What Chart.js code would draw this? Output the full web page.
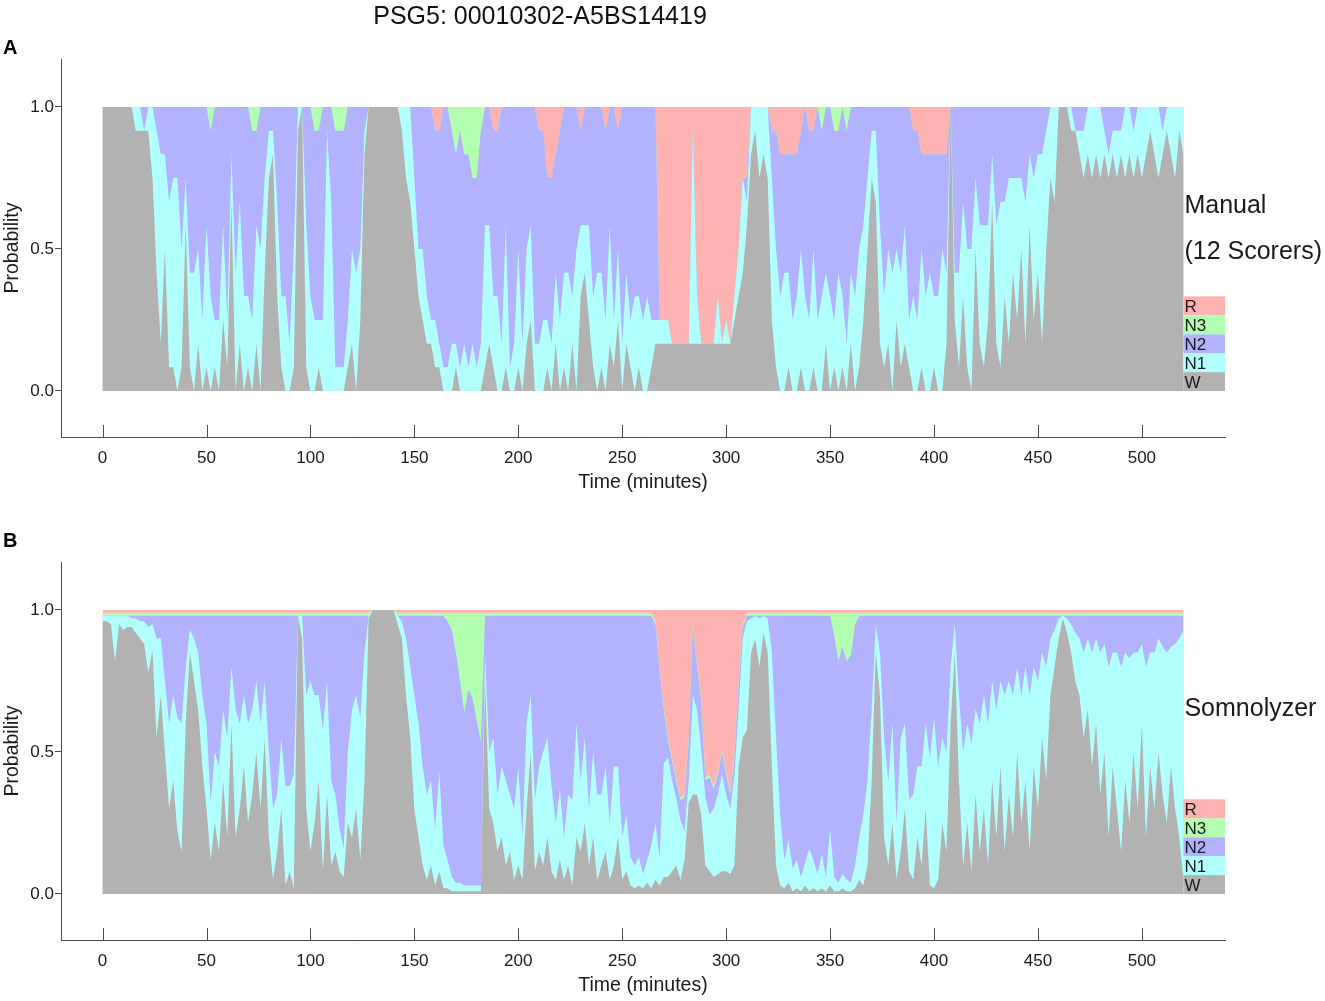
<!DOCTYPE html>
<html><head><meta charset="utf-8">
<script src="https://cdn.jsdelivr.net/npm/chart.js@4.4.1/dist/chart.umd.min.js"></script>
<style>
html,body{margin:0;padding:0;background:#fff;}
#wrap{position:relative;width:1325px;height:1001px;overflow:hidden;font-family:"Liberation Sans",Arial,sans-serif;color:#000;}
canvas{position:absolute;left:0;}
#cA{top:0}
#cB{top:503px}
.lbl{position:absolute;font-weight:bold;font-size:20px;line-height:20px;z-index:2}
#title{position:absolute;top:1px;left:540px;transform:translateX(-50%);font-size:25px;line-height:29px;white-space:nowrap;z-index:2;color:#111}
</style></head><body>
<div id="wrap">
<canvas id="cA" width="1325" height="498"></canvas>
<canvas id="cB" width="1325" height="498"></canvas>
<div id="title">PSG5: 00010302-A5BS14419</div>
<div class="lbl" style="left:3px;top:37px">A</div>
<div class="lbl" style="left:3px;top:530px">B</div>
</div>
<script>
// ---------- categories / ticks ----------
const STAGES = ['W','N1','N2','N3','R'];
const EPOCH_STEP_MIN = 2;          // values read every 2 minutes, 0..520
const xTicks = [0,50,100,150,200,250,300,350,400,450,500];
const yTicks = [0,0.5,1.0];

// ---------- Panel A: manual scoring, votes out of 12 scorers ----------
const manualW = [
12,12,12,12,12,12,12,12,11,11,
11,11,9,5,2,6,1,1,0,1,
7,1,0,2,0,1,0,1,0,3,
1,8,0,2,0,1,0,2,0,5,
9,10,4,1,0,0,1,11,12,1,
0,0,1,0,0,0,0,0,0,1,
2,0,3,10,12,12,12,12,12,12,
12,12,11,9,8,6,4,3,2,2,
1,1,0,0,0,1,0,0,0,0,
0,0,1,2,1,0,0,1,0,0,
1,0,2,3,0,0,0,1,0,2,
0,1,0,2,0,4,5,3,1,0,
1,0,2,1,3,0,2,1,0,1,
0,0,1,2,2,2,2,2,2,2,
2,2,2,2,2,2,2,2,2,2,
2,2,3,4,5,7,10,11,9,10,
9,3,1,0,0,1,0,0,1,0,
0,1,0,0,2,0,1,0,1,0,
2,0,1,3,6,9,8,2,1,2,
0,3,1,2,1,0,0,1,0,0,
1,0,0,2,12,3,1,4,1,0,
6,2,1,3,8,2,1,4,2,5,
3,6,2,7,3,5,2,6,9,8,
12,12,12,11,11,10,9,10,9,10,
9,10,9,10,9,10,9,10,9,10,
9,10,11,10,9,10,11,10,9,11,
10];
const manualN1 = [
0,0,0,0,0,0,0,0,1,1,
0,1,3,6,8,4,7,8,9,5,
2,4,5,4,3,6,4,2,3,4,
2,2,5,6,4,3,3,5,6,4,
2,1,4,3,4,2,5,1,0,6,
4,3,2,3,11,8,1,1,1,2,
4,5,3,1,0,0,0,0,0,0,
0,0,1,3,4,3,2,3,2,1,
2,1,1,1,2,1,1,2,1,2,
1,2,6,5,3,4,2,6,1,2,
5,2,4,4,2,2,3,2,2,3,
3,4,5,2,6,3,2,4,3,5,
4,3,5,2,3,2,3,2,4,3,
3,4,2,1,1,1,1,0,0,0,
0,0,9,2,0,0,0,0,2,0,
1,0,1,2,4,1,2,1,3,2,
3,6,5,4,5,4,3,4,5,4,
3,5,3,4,3,4,2,5,3,2,
3,4,5,4,3,2,3,5,3,4,
5,3,4,5,2,4,3,5,4,5,
3,4,6,3,0,2,4,4,5,6,
3,5,6,4,2,5,7,4,7,4,
6,3,6,3,6,5,8,5,3,4,
0,0,0,1,0,1,2,2,3,2,
3,1,1,1,2,1,3,2,2,2,
3,2,1,2,3,1,1,2,3,1,
2];
const manualN2 = [
0,0,0,0,0,0,0,0,0,0,
1,0,0,1,2,2,4,3,3,6,
3,7,7,6,9,5,7,9,9,5,
9,2,7,4,8,8,8,4,6,3,
1,1,4,8,8,10,6,0,0,5,
8,8,8,9,1,4,10,10,10,9,
6,7,6,1,0,0,0,0,0,0,
0,0,0,0,0,3,6,6,8,9,
8,9,11,11,9,8,10,8,9,7,
8,9,5,5,7,7,10,5,11,10,
6,10,6,5,10,9,8,6,7,5,
8,7,7,8,6,4,5,5,8,7,
7,8,5,9,5,10,7,9,8,8,
9,8,9,9,0,0,0,0,0,0,
0,0,0,0,0,0,0,0,0,0,
0,0,0,0,0,1,0,0,0,0,
0,2,5,6,5,5,7,6,5,8,
8,5,9,7,7,8,8,6,8,9,
7,8,6,5,3,1,1,5,8,6,
7,6,7,5,9,7,8,4,6,5,
6,6,4,5,0,7,7,4,6,6,
3,5,5,5,2,5,4,4,3,3,
3,3,4,2,3,2,2,1,0,0,
0,0,0,0,1,1,1,0,0,0,
0,1,2,1,1,1,0,0,1,0,
0,0,0,0,0,1,0,0,0,0,
0];
const manualN3 = [
0,0,0,0,0,0,0,0,0,0,
0,0,0,0,0,0,0,0,0,0,
0,0,0,0,0,0,1,0,0,0,
0,0,0,0,0,0,1,1,0,0,
0,0,0,0,0,0,0,0,0,0,
0,1,1,0,0,0,1,1,1,0,
0,0,0,0,0,0,0,0,0,0,
0,0,0,0,0,0,0,0,0,0,
0,0,0,0,1,2,1,2,2,3,
3,1,0,0,0,0,0,0,0,0,
0,0,0,0,0,0,0,0,0,0,
0,0,0,0,0,0,0,0,0,0,
0,0,0,0,0,0,0,0,0,0,
0,0,0,0,0,0,0,0,0,0,
0,0,0,0,0,0,0,0,0,0,
0,0,0,0,0,0,0,0,0,0,
0,0,0,0,0,0,0,0,0,0,
0,0,0,1,0,0,1,1,0,1,
0,0,0,0,0,0,0,0,0,0,
0,0,0,0,0,0,0,0,0,0,
0,0,0,0,0,0,0,0,0,0,
0,0,0,0,0,0,0,0,0,0,
0,0,0,0,0,0,0,0,0,0,
0,0,0,0,0,0,0,0,0,0,
0,0,0,0,0,0,0,0,0,0,
0,0,0,0,0,0,0,0,0,0,
0];
const manualR = [
0,0,0,0,0,0,0,0,0,0,
0,0,0,0,0,0,0,0,0,0,
0,0,0,0,0,0,0,0,0,0,
0,0,0,0,0,0,0,0,0,0,
0,0,0,0,0,0,0,0,0,0,
0,0,0,0,0,0,0,0,0,0,
0,0,0,0,0,0,0,0,0,0,
0,0,0,0,0,0,0,0,0,0,
1,1,0,0,0,0,0,0,0,0,
0,0,0,0,1,1,0,0,0,0,
0,0,0,0,0,1,1,3,3,2,
1,0,0,0,0,1,0,0,0,0,
0,1,0,0,1,0,0,0,0,0,
0,0,0,0,9,9,9,10,10,10,
10,10,1,8,10,10,10,10,8,10,
9,10,8,6,3,3,0,0,0,0,
0,1,1,2,2,2,2,2,1,0,
1,1,0,0,0,0,0,0,0,0,
0,0,0,0,0,0,0,0,0,0,
0,0,0,0,0,1,1,2,2,2,
2,2,2,2,0,0,0,0,0,0,
0,0,0,0,0,0,0,0,0,0,
0,0,0,0,0,0,0,0,0,0,
0,0,0,0,0,0,0,0,0,0,
0,0,0,0,0,0,0,0,0,0,
0,0,0,0,0,0,0,0,0,0,
0];

// ---------- Panel B: Somnolyzer probabilities (%) ----------
const somW = [
96,96,95,82,95,93,94,94,92,90,
88,78,86,55,70,50,30,40,22,15,
60,85,75,65,45,30,12,25,15,40,
20,60,20,30,45,25,35,50,30,55,
20,5,15,30,3,8,2,98,90,30,
15,25,40,8,35,10,15,8,6,25,
20,30,12,40,97,100,100,100,100,100,
100,95,90,70,55,30,20,10,5,10,
3,8,2,2,1,1,1,1,1,1,
1,1,75,30,25,15,20,10,15,5,
10,5,30,50,8,15,10,20,8,5,
12,5,10,3,20,15,25,10,20,5,
10,15,5,10,20,5,8,3,2,3,
2,4,2,5,3,6,6,8,10,5,
12,32,35,35,28,10,8,6,7,8,
8,7,10,45,55,58,85,90,80,92,
85,45,10,3,2,4,1,2,1,3,
1,2,1,2,1,3,1,1,2,1,
1,2,5,3,10,40,85,70,20,10,
25,5,15,30,8,5,20,10,30,3,
2,5,25,15,60,85,40,10,25,8,
35,15,30,10,40,20,45,15,35,20,
50,25,40,15,45,30,55,40,70,80,
90,97,92,85,75,70,55,65,45,60,
35,50,20,45,30,15,40,25,50,30,
60,20,45,30,50,35,25,45,30,20,
5];
const somN1 = [
2,2,3,16,3,5,4,3,5,6,
8,16,9,35,20,25,30,30,40,45,
20,8,15,20,25,30,20,25,30,25,
35,20,45,30,25,35,30,25,30,20,
30,25,20,25,35,30,40,0,8,40,
60,45,30,50,40,30,20,15,10,25,
45,40,50,45,1,0,0,0,0,0,
0,3,6,20,25,40,40,35,30,30,
20,35,15,10,5,3,3,2,2,2,
2,2,10,20,30,20,25,30,20,25,
35,15,30,20,25,30,40,35,30,20,
25,15,25,30,40,25,30,20,30,30,
25,30,20,35,25,15,20,10,8,10,
5,8,15,20,10,40,42,32,24,21,
10,8,35,30,23,24,20,24,28,34,
27,23,32,20,35,38,12,8,17,6,
12,40,45,25,10,15,8,10,5,8,
15,10,6,12,5,20,5,3,5,4,
3,8,15,25,30,25,10,15,35,30,
35,20,40,30,25,30,25,35,30,45,
60,40,30,35,20,10,30,40,35,45,
30,45,40,50,35,45,30,55,40,50,
30,45,40,55,35,45,30,40,20,13,
7,1,5,10,17,20,30,25,40,30,
50,38,60,40,55,65,45,58,35,55,
28,60,40,55,40,52,60,42,58,70,
88];
const somN2 = [
0,0,0,0,0,0,0,1,1,2,
2,4,3,8,8,23,38,28,36,38,
18,5,8,13,28,38,66,48,53,33,
43,18,33,38,28,38,33,23,38,23,
48,68,63,43,60,60,56,0,0,28,
23,28,28,40,23,58,63,75,82,48,
33,28,36,13,0,0,0,0,0,0,
0,0,2,8,18,28,38,53,63,58,
75,55,81,84,87,81,71,61,69,66,
58,51,13,48,43,63,53,58,63,68,
53,78,38,28,65,53,48,43,60,73,
61,78,63,65,38,58,43,68,48,63,
63,53,73,53,53,78,70,85,88,85,
91,86,81,70,66,19,6,7,6,7,
12,14,24,15,17,6,13,7,7,8,
7,5,6,9,4,2,1,0,1,0,
1,13,43,70,86,79,89,86,92,87,
82,86,91,84,92,75,85,78,80,77,
80,85,78,70,58,33,3,13,43,58,
38,73,43,38,65,63,53,53,38,50,
36,53,43,48,18,3,28,48,38,45,
33,38,28,38,23,33,23,28,23,28,
18,28,18,28,18,23,13,18,8,5,
1,0,1,3,6,8,13,8,13,8,
13,10,18,13,13,18,13,15,13,13,
10,18,13,13,8,11,13,11,10,8,
5];
const somN3 = [
1,1,1,1,1,1,1,1,1,1,
1,1,1,1,1,1,1,1,1,1,
1,1,1,1,1,1,1,1,1,1,
1,1,1,1,1,1,1,1,1,1,
1,1,1,1,1,1,1,1,1,1,
1,1,1,1,1,1,1,1,1,1,
1,1,1,1,1,0,0,0,0,0,
0,1,1,1,1,1,1,1,1,1,
1,1,1,3,6,14,24,35,27,30,
38,45,1,1,1,1,1,1,1,1,
1,1,1,1,1,1,1,1,1,1,
1,1,1,1,1,1,1,1,1,1,
1,1,1,1,1,1,1,1,1,1,
1,1,1,1,1,1,1,1,1,1,
1,1,1,1,1,1,1,1,1,1,
1,1,1,1,1,1,1,1,1,1,
1,1,1,1,1,1,1,1,1,1,
1,1,1,1,1,1,8,17,12,17,
15,4,1,1,1,1,1,1,1,1,
1,1,1,1,1,1,1,1,1,1,
1,1,1,1,1,1,1,1,1,1,
1,1,1,1,1,1,1,1,1,1,
1,1,1,1,1,1,1,1,1,1,
1,1,1,1,1,1,1,1,1,1,
1,1,1,1,1,1,1,1,1,1,
1,1,1,1,1,1,1,1,1,1,
1];
const somR = [
1,1,1,1,1,1,1,1,1,1,
1,1,1,1,1,1,1,1,1,1,
1,1,1,1,1,1,1,1,1,1,
1,1,1,1,1,1,1,1,1,1,
1,1,1,1,1,1,1,1,1,1,
1,1,1,1,1,1,1,1,1,1,
1,1,1,1,1,0,0,0,0,0,
0,1,1,1,1,1,1,1,1,1,
1,1,1,1,1,1,1,1,1,1,
1,1,1,1,1,1,1,1,1,1,
1,1,1,1,1,1,1,1,1,1,
1,1,1,1,1,1,1,1,1,1,
1,1,1,1,1,1,1,1,1,1,
1,1,1,4,20,34,45,52,59,66,
65,45,5,19,31,59,58,62,57,49,
57,64,51,25,5,1,1,1,1,1,
1,1,1,1,1,1,1,1,1,1,
1,1,1,1,1,1,1,1,1,1,
1,1,1,1,1,1,1,1,1,1,
1,1,1,1,1,1,1,1,1,1,
1,1,1,1,1,1,1,1,1,1,
1,1,1,1,1,1,1,1,1,1,
1,1,1,1,1,1,1,1,1,1,
1,1,1,1,1,1,1,1,1,1,
1,1,1,1,1,1,1,1,1,1,
1,1,1,1,1,1,1,1,1,1,
1];

// ---------- styling ----------
const COLORS = {W:'rgb(178,178,178)',N1:'rgb(178,255,255)',N2:'rgb(178,178,255)',N3:'rgb(178,255,178)',R:'rgb(255,178,178)'};
const FONT = '"Liberation Sans", Arial, Helvetica, sans-serif';
const AXIS = '#4d4d4d';
const TXT = '#1a1a1a';
Chart.defaults.font.family = FONT;

function buildDatasets(series){
  const n = series.W.length;
  const totals = [];
  for (let i=0;i<n;i++){ let s=0; STAGES.forEach(k=>{ s+=series[k][i]; }); totals.push(s); }
  return STAGES.map(k=>({
    label:k,
    data: series[k].map((v,i)=>({x:i*EPOCH_STEP_MIN, y:v/totals[i]})),
    backgroundColor: COLORS[k],
    borderColor:'rgba(0,0,0,0)',
    borderWidth:0,
    pointRadius:0,
    pointHoverRadius:0,
    tension:0,
    fill:'origin'
  }));
}

const sidePlugin = {
  id:'side',
  afterDatasetsDraw(chart, args, opts){
    const {ctx, scales:{x,y}} = chart;
    const x0 = x.getPixelForValue(520), x1 = x.getPixelForValue(540);
    ctx.save();
    STAGES.forEach((s,i)=>{
      const yb = y.getPixelForValue(i/15), yt = y.getPixelForValue((i+1)/15);
      ctx.fillStyle = COLORS[s];
      ctx.fillRect(x0, yt, x1-x0, yb-yt);
      ctx.fillStyle = TXT;
      ctx.font = '17px '+FONT;
      ctx.textAlign='left'; ctx.textBaseline='alphabetic';
      ctx.fillText(s, x0+1, yb-3);
    });
    ctx.font = '25px '+FONT;
    ctx.fillStyle = TXT;
    opts.lines.forEach(l=>{ ctx.fillText(l.text, x0+1, y.getPixelForValue(l.p)); });
    // inward x tick marks
    ctx.strokeStyle = AXIS; ctx.lineWidth = 1;
    xTicks.forEach(v=>{
      const px = Math.round(x.getPixelForValue(v))+0.5;
      ctx.beginPath(); ctx.moveTo(px, y.bottom); ctx.lineTo(px, y.bottom-12); ctx.stroke();
    });
    ctx.restore();
  }
};

function makeChart(id, series, lines){
  return new Chart(document.getElementById(id), {
    type:'line',
    data:{datasets: buildDatasets(series)},
    options:{
      responsive:false, animation:false, devicePixelRatio:1,
      layout:{padding:{top:59,right:100,left:0,bottom:0}},
      plugins:{legend:{display:false}, tooltip:{enabled:false}, side:{lines}},
      elements:{line:{borderWidth:0}},
      scales:{
        x:{type:'linear', min:-20, max:540,
           afterFit(s){ s.height = 61; },
           afterBuildTicks(s){ s.ticks = xTicks.map(v=>({value:v})); },
           grid:{display:false},
           border:{display:true, color:AXIS, width:1},
           ticks:{color:TXT, font:{size:17}, padding:3, maxRotation:0, autoSkip:false},
           title:{display:true, text:'Time (minutes)', color:TXT, font:{size:19.5}, padding:{top:0,bottom:4}}
        },
        y:{type:'linear', stacked:true, min:-0.162, max:1.169,
           afterFit(s){ s.width = 61; },
           afterBuildTicks(s){ s.ticks = yTicks.map(v=>({value:v})); },
           grid:{display:true, drawOnChartArea:false, drawTicks:true, tickLength:6, color:AXIS},
           border:{display:true, color:AXIS, width:1},
           ticks:{color:TXT, font:{size:17}, padding:1, callback:v=>v.toFixed(1)},
           title:{display:true, text:'Probability', color:TXT, font:{size:19.5}, padding:{top:1,bottom:0}}
        }
      }
    },
    plugins:[sidePlugin]
  });
}

makeChart('cA', {W:manualW,N1:manualN1,N2:manualN2,N3:manualN3,R:manualR},
  [{text:'Manual', p:0.627},{text:'(12 Scorers)', p:0.464}]);
makeChart('cB', {W:somW,N1:somN1,N2:somN2,N3:somN3,R:somR},
  [{text:'Somnolyzer', p:0.627}]);
</script>
</body></html>
